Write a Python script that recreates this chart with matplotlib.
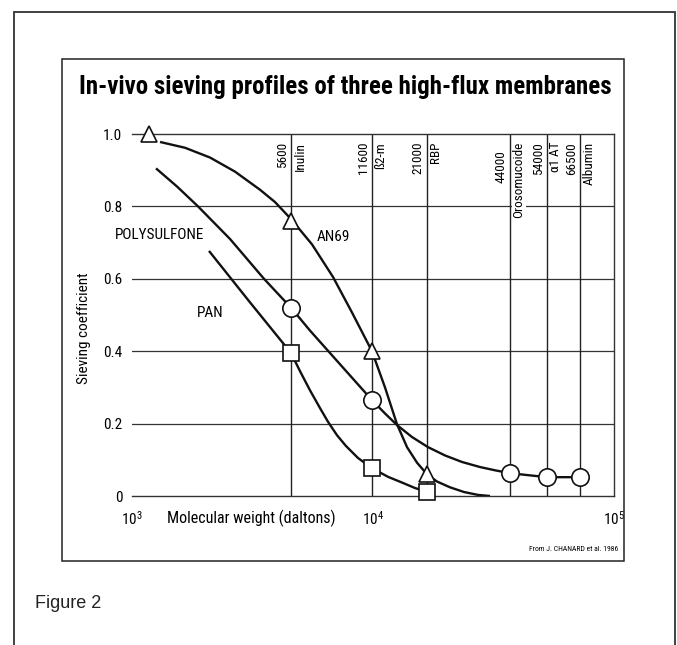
import matplotlib
matplotlib.use("Agg")
import matplotlib.pyplot as plt
from matplotlib import font_manager as fm
from matplotlib.patches import Rectangle

# pick a condensed face that is present, else fall back
have = {f.name for f in fm.fontManager.ttflist}
cond = next((n for n in ["Roboto Condensed", "Archivo Narrow", "Asap Condensed",
                         "Liberation Sans Narrow"] if n in have), "DejaVu Sans")
plt.rcParams['font.family'] = [cond, 'DejaVu Sans']
plt.rcParams['mathtext.fontset'] = 'custom'
plt.rcParams['mathtext.rm'] = cond
plt.rcParams['mathtext.it'] = cond + ':italic'
plt.rcParams['mathtext.bf'] = cond + ':bold'

# solute lines (positions as drawn on the chart)
solute_mw = [4570, 9900, 16750, 37000, 52700, 72300]
solute_mw_text = ["5600", "11600", "21000", "44000", "54000", "66500"]
solute_names = ["Inulin", "ß2-m", "RBP", "Orosomucoide", "α1 AT", "Albumin"]

# AN69 (triangles)
an69_x = [1307, 1659, 2107, 2676, 3398, 3921, 4570, 5585, 6824, 8181, 9900,
          11215, 12580, 13840, 15230, 16750, 18430, 20870, 23860, 27280, 30590]
an69_y = [0.978, 0.962, 0.935, 0.896, 0.846, 0.812, 0.765, 0.695, 0.605, 0.507, 0.40,
          0.30, 0.198, 0.135, 0.092, 0.06, 0.04, 0.024, 0.011, 0.003, 0.0]
an69_mx = [1176, 4570, 9900, 16750]
an69_my = [1.0, 0.76, 0.40, 0.06]

# Polysulfone (circles)
ps_x = [1258, 1537, 1879, 2551, 3529, 4570, 5477, 6630, 8028, 9900, 11215,
        12580, 14510, 16913, 19900, 23400, 27800, 32080, 37000, 44820, 52700,
        61420, 72300]
ps_y = [0.905, 0.855, 0.80, 0.71, 0.60, 0.52, 0.457, 0.395, 0.333, 0.265, 0.228,
        0.196, 0.163, 0.135, 0.112, 0.094, 0.080, 0.071, 0.063, 0.057, 0.052,
        0.052, 0.052]
ps_mx = [4570, 9900, 37000, 52700, 72300]
ps_my = [0.52, 0.265, 0.063, 0.052, 0.052]

# PAN (squares)
pan_x = [2087, 3087, 4570, 4978, 5477, 6026, 6506, 7088, 7727, 8665, 9900,
         11540, 13320, 14940, 16750]
pan_y = [0.677, 0.535, 0.395, 0.345, 0.292, 0.243, 0.205, 0.168, 0.138, 0.105,
         0.077, 0.053, 0.036, 0.022, 0.012]
pan_mx = [4570, 9900, 16750]
pan_my = [0.395, 0.077, 0.012]

y_ticks = [0, 0.2, 0.4, 0.6, 0.8, 1.0]
y_tick_text = ["0", "0.2", "0.4", "0.6", "0.8", "1.0"]
x_ticks = [1e3, 1e4, 1e5]
x_tick_text = [r"$\mathrm{10^3}$", r"$\mathrm{10^4}$", r"$\mathrm{10^5}$"]

W, H = 677, 645
fig = plt.figure(figsize=(W / 100, H / 100), dpi=100)


def fx(px):
    return px / W


def fy(py):
    return 1 - py / H


ax = fig.add_axes([fx(132), fy(496), fx(614) - fx(132), fy(134) - fy(496)])
ax.set_xscale('log')
ax.set_xlim(1e3, 1e5)
ax.set_ylim(0, 1)

ax.spines["left"].set_visible(False)
for s in ["right", "top", "bottom"]:
    ax.spines[s].set_color("#333333")
    ax.spines[s].set_linewidth(1.0)

for v in y_ticks[1:-1]:
    ax.axhline(v, color="#333333", lw=0.9, zorder=1)

ax.vlines(solute_mw, 0, 1, color="#222222", lw=1.0, zorder=1)

ax.set_yticks(y_ticks)
ax.set_yticklabels(y_tick_text, fontsize=11)
ax.set_xticks(x_ticks)
ax.set_xticklabels(x_tick_text, fontsize=11)
ax.minorticks_off()
ax.tick_params(axis='y', length=0, pad=7)
ax.tick_params(axis='x', length=0, pad=10)

line_kw = dict(color="#111111", lw=1.7, zorder=3, solid_capstyle='butt',
               solid_joinstyle='round')
ax.plot(an69_x, an69_y, **line_kw)
ax.plot(ps_x, ps_y, **line_kw)
ax.plot(pan_x, pan_y, **line_kw)

mk_kw = dict(ls="none", mfc="white", mec="#111111", mew=1.2, zorder=5, clip_on=False)
ax.plot(an69_mx, an69_my, marker="^", ms=12, **mk_kw)
ax.plot(ps_mx, ps_my, marker="o", ms=12.5, **mk_kw)
ax.plot(pan_mx, pan_my, marker="s", ms=12, **mk_kw)

for mw, num, name in zip(solute_mw, solute_mw_text, solute_names):
    ytop = 0.956 if num == "44000" else 0.978
    ax.annotate(num, xy=(mw, ytop), xytext=(-1.5, 0), textcoords="offset points",
                rotation=90, ha="right", va="top", fontsize=9.5)
    bb = dict(fc="white", ec="none", pad=0.5) if name == "Orosomucoide" else None
    ax.annotate(name, xy=(mw, 0.978), xytext=(1.8, 0), textcoords="offset points",
                rotation=90, ha="left", va="top", fontsize=9.5, bbox=bb, zorder=4)

ax.text(850, 0.721, "POLYSULFONE", fontsize=11, ha="left", va="center")
ax.text(5857, 0.715, "AN69", fontsize=11, ha="left", va="center")
ax.text(1861, 0.506, "PAN", fontsize=11, ha="left", va="center")

fig.text(fx(167), fy(518), "Molecular weight (daltons)", fontsize=11.5,
         ha="left", va="center")
fig.text(fx(84), fy(328), "Sieving coefficient", fontsize=11, rotation=90,
         ha="center", va="center")
title = fig.text(fx(345), fy(87), "In-vivo sieving profiles of three high-flux membranes",
                 fontsize=18.5, weight="bold", ha="center", va="center")
fig.text(fx(618), fy(549), "From J. CHANARD et al. 1986", fontsize=5.5,
         ha="right", va="center")
fig.text(fx(35), fy(603), "Figure 2", fontsize=13, family="Liberation Sans",
         ha="left", va="center", color="#222222")

fig.add_artist(Rectangle((fx(62), fy(561)), fx(624) - fx(62), fy(59) - fy(561),
                         transform=fig.transFigure, fill=False, ec="#222222", lw=1.1))
fig.add_artist(Rectangle((fx(14), fy(700)), fx(675) - fx(14), fy(12) - fy(700),
                         transform=fig.transFigure, fill=False, ec="#333333", lw=1.3))

# fit the title to the width it takes in the original
fig.canvas.draw()
w = title.get_window_extent().width
title.set_fontsize(title.get_fontsize() * 532 / w)

fig.savefig("out.png", dpi=100)
